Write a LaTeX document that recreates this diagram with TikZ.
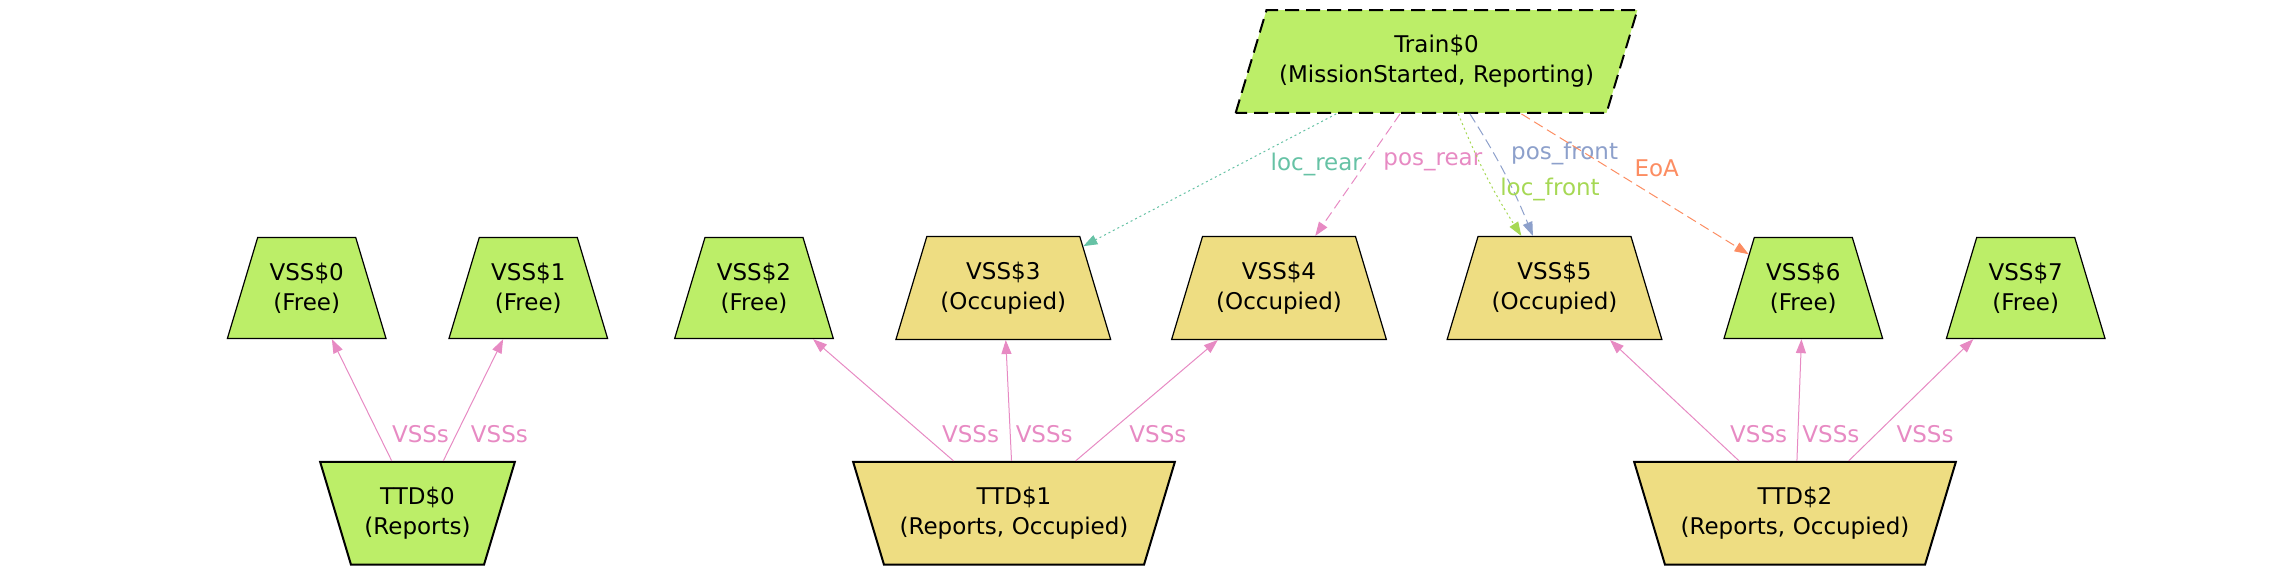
\documentclass[tikz,border=0pt]{standalone}
\usepackage{fontspec}
\setmainfont{DejaVu Sans}
\usetikzlibrary{arrows.meta, positioning, shapes.geometric}
\definecolor{cfree}{HTML}{BCEE68}
\definecolor{cocc}{HTML}{EEDD82}
\definecolor{cteal}{HTML}{66C2A5}
\definecolor{corange}{HTML}{FC8D62}
\definecolor{cblue}{HTML}{8DA0CB}
\definecolor{cpink}{HTML}{E78AC3}
\definecolor{clime}{HTML}{A6D854}
\tikzset{
  every picture/.style={font=\fontsize{23}{30}\selectfont},
  vss/.style={trapezium, trapezium angle=73.3, draw, fill=#1, line width=1.2pt,
    text width=98pt, align=center, inner xsep=0pt, inner ysep=25.3pt},
  vss/.default=cfree,
  ttd/.style={trapezium, trapezium angle=106.7, draw, fill=#1, line width=2pt,
    text width=260pt, align=center, inner xsep=0pt, inner ysep=25.3pt},
  train/.style={trapezium, trapezium left angle=73.3, trapezium right angle=106.7,
    draw, dash pattern=on 14pt off 7pt, fill=cfree, line width=2pt, text width=340pt,
    align=center, inner xsep=0pt, inner ysep=25.3pt},
  link/.style={-{Triangle[length=14pt, width=10pt]}, draw=#1, line width=1pt},
  link/.default=cpink,
  lbl/.style={text=#1, inner sep=0pt, anchor=west},
  lbl/.default=cpink,
}

\begin{document}
\begin{tikzpicture}[x=1pt, y=-1pt]
  \useasboundingbox (0,0) rectangle (2270,575);
  % train on top
  \node[train] (train) at (1436.5,61.5) {Train\$0\\(MissionStarted, Reporting)};
  % sections
  \node[vss] (vss0) at (306.7,288) {VSS\$0\\(Free)};
  \node[vss] (vss1) at (528.3,288) {VSS\$1\\(Free)};
  \node[vss] (vss2) at (754,288) {VSS\$2\\(Free)};
  \node[vss=cocc, text width=153pt] (vss3) at (1003.3,288) {VSS\$3\\(Occupied)};
  \node[vss=cocc, text width=153pt] (vss4) at (1279,288) {VSS\$4\\(Occupied)};
  \node[vss=cocc, text width=153pt] (vss5) at (1554.5,288) {VSS\$5\\(Occupied)};
  \node[vss] (vss6) at (1803.3,288) {VSS\$6\\(Free)};
  \node[vss] (vss7) at (2025.7,288) {VSS\$7\\(Free)};
  % detection sections
  \node[ttd=cfree, text width=133pt] (ttd0) at (417.5,513.3) {TTD\$0\\(Reports)};
  \node[ttd=cocc] (ttd1) at (1014,513.3) {TTD\$1\\(Reports, Occupied)};
  \node[ttd=cocc] (ttd2) at (1795,513.3) {TTD\$2\\(Reports, Occupied)};
  \foreach \a/\b/\gap in {ttd0/vss0/13, ttd0/vss1/14, ttd1/vss2/19, ttd1/vss3/5, ttd1/vss4/22,
      ttd2/vss5/19, ttd2/vss6/4, ttd2/vss7/20}
    \draw[link] (\a) -- node[lbl, pos=0.22, xshift=\gap pt] {VSSs} (\b);
  % train pointers
  \draw[link=cteal, dash pattern=on 2pt off 3pt] (train) -- node[lbl=cteal, pos=0.38, xshift=30pt] {loc\_rear} (vss3);
  \draw[link, dash pattern=on 10pt off 5pt] (train) -- node[lbl, pos=0.39, xshift=16pt] {pos\_rear} (vss4);
  \draw[link=cblue, dash pattern=on 10pt off 5pt] (train) to[bend left=5] node[lbl=cblue, pos=0.32, xshift=17pt] {pos\_front} (vss5);
  \draw[link=clime, dash pattern=on 2pt off 3pt] (train) to[bend right=5] node[lbl=clime, pos=0.62, xshift=6pt] {loc\_front} (vss5);
  \draw[link=corange, dash pattern=on 10pt off 5pt] (train) -- node[lbl=corange, pos=0.39, xshift=24pt] {EoA} (vss6);
\end{tikzpicture}
\end{document}
